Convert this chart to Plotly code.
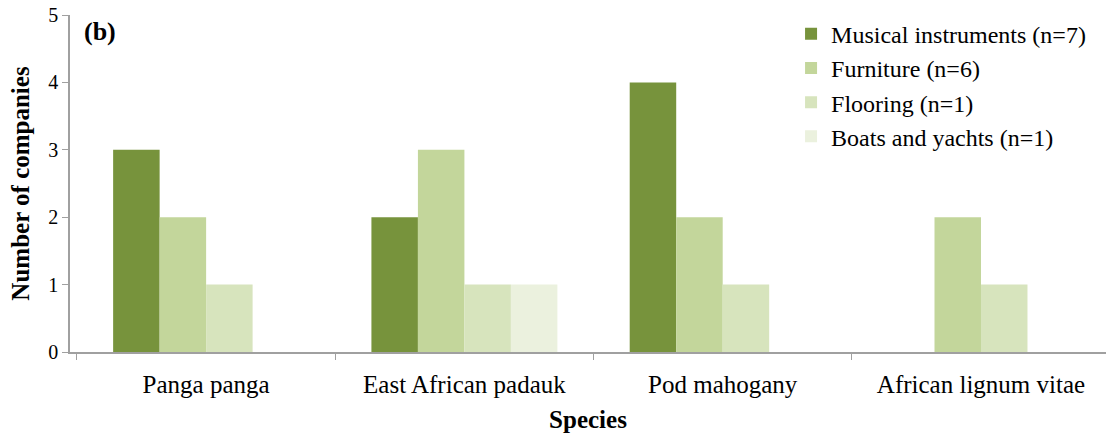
import plotly.graph_objects as go

species = ["Panga panga", "East African padauk", "Pod mahogany", "African lignum vitae"]
series_names = ["Musical instruments (n=7)", "Furniture (n=6)", "Flooring (n=1)", "Boats and yachts (n=1)"]
musical = [3, 2, 4, 0]
furniture = [2, 3, 2, 2]
flooring = [1, 1, 1, 1]
boats = [0, 1, 0, 0]
y_ticks = [0, 1, 2, 3, 4, 5]

colors = ["#77933C", "#C3D69B", "#D7E4BD", "#EBF1DE"]
values = [musical, furniture, flooring, boats]

FONT = "Times New Roman, Liberation Serif, serif"

fig = go.Figure()
for name, vals, col in zip(series_names, values, colors):
    fig.add_trace(go.Bar(x=species, y=vals, name=name, marker=dict(color=col, line=dict(width=0))))

fig.update_layout(
    width=1106, height=434,
    margin=dict(l=70, r=0, t=15, b=82),
    paper_bgcolor="white", plot_bgcolor="white",
    barmode="group", bargap=0.28, bargroupgap=0,
    font=dict(family=FONT, size=24, color="black"),
    showlegend=True,
    legend=dict(x=0.696, y=1.01, xanchor="left", yanchor="top", font=dict(family=FONT, size=24),
                bgcolor="rgba(0,0,0,0)", tracegroupgap=0, itemwidth=30),
    xaxis=dict(range=[-0.527, 3.484], tickson="boundaries", ticks="outside", ticklen=6,
               tickcolor="#A0A0A0", showline=True, linecolor="#A0A0A0", linewidth=1.5,
               showgrid=False, tickfont=dict(family=FONT, size=25), automargin=False,
               ticklabelstandoff=9,
               title=dict(text="<b>Species</b>", font=dict(family=FONT, size=25), standoff=14)),
    yaxis=dict(range=[0, 5], tickvals=y_ticks, ticks="outside", ticklen=6, tickcolor="#A0A0A0",
               showline=True, linecolor="#A0A0A0", linewidth=1.5, showgrid=False, zeroline=False,
               ticklabeloverflow="allow", automargin=False,
               tickfont=dict(family=FONT, size=20),
               title=dict(text="<b>Number of companies</b>", font=dict(family=FONT, size=25), standoff=12)),
)

fig.add_annotation(text="<b>(b)</b>", xref="paper", yref="paper", x=0.012, y=1.0,
                   xanchor="left", yanchor="top", showarrow=False, font=dict(family=FONT, size=26))

fig.write_html("out.html", config={"displayModeBar": False},
               post_script="document.body.style.margin='0';")
